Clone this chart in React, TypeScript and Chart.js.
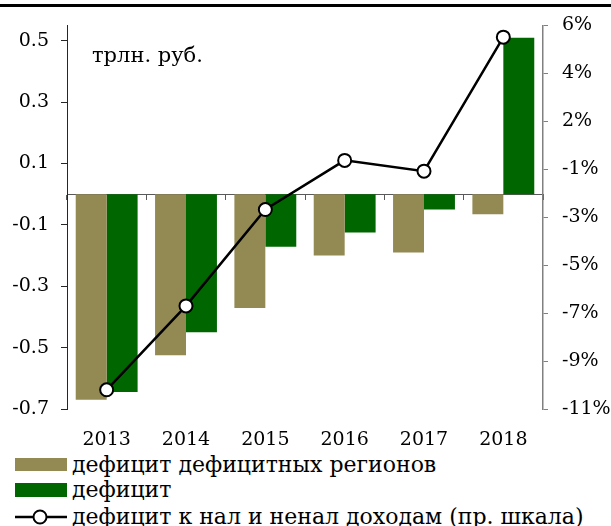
import React, { useEffect, useRef } from "react";
import { Chart, registerables } from "chart.js";

Chart.register(...registerables);

const categories = ["2013", "2014", "2015", "2016", "2017", "2018"];
const regionsDeficit = [-0.67, -0.525, -0.371, -0.2, -0.19, -0.065];
const totalDeficit = [-0.645, -0.45, -0.171, -0.125, -0.05, 0.51];
const deficitShare = [-9.7, -6.2, -2.18, -0.13, -0.58, 5.01];

const leftTickValues = [-0.7, -0.5, -0.3, -0.1, 0.1, 0.3, 0.5];
const leftTickLabels = ["-0.7", "-0.5", "-0.3", "-0.1", "0.1", "0.3", "0.5"];
const rightTickValues = [-10.5, -8.5, -6.5, -4.5, -2.5, -0.5, 1.5, 3.5, 5.5];
const rightTickLabels = ["-11%", "-9%", "-7%", "-5%", "-3%", "-1%", "2%", "4%", "6%"];

const seriesNames = [
  "дефицит дефицитных регионов",
  "дефицит",
  "дефицит к нал и ненал доходам (пр. шкала)",
];
const unitLabel = "трлн. руб.";

const TAN = "#938953";
const GREEN = "#006600";
const FONT = '"DejaVu Serif", serif';
const TICK_SIZE = 19;

const W = 611;
const CH = 452;

export default function App() {
  const ref = useRef<HTMLCanvasElement | null>(null);

  useEffect(() => {
    if (!ref.current) return;
    const unitPlugin = {
      id: "unitLabel",
      afterDraw(chart: any) {
        const { ctx, chartArea } = chart;
        ctx.save();
        ctx.font = `21px ${FONT}`;
        ctx.fillStyle = "#000";
        ctx.textBaseline = "alphabetic";
        ctx.fillText(unitLabel, chartArea.left + 25, chartArea.top + 37);
        ctx.restore();
      },
    };
    const chart = new Chart(ref.current, {
      type: "bar",
      data: {
        labels: categories,
        datasets: [
          {
            type: "line",
            label: seriesNames[2],
            data: deficitShare,
            yAxisID: "yR",
            xAxisID: "x",
            borderColor: "#000",
            borderWidth: 2.5,
            pointRadius: 6.5,
            pointBorderWidth: 2,
            pointBackgroundColor: "#fff",
            pointBorderColor: "#000",
            tension: 0,
            order: 0,
          } as any,
          {
            label: seriesNames[0],
            data: regionsDeficit,
            backgroundColor: TAN,
            yAxisID: "yL",
            xAxisID: "x",
            barPercentage: 1,
            categoryPercentage: 0.78,
            order: 1,
          },
          {
            label: seriesNames[1],
            data: totalDeficit,
            backgroundColor: GREEN,
            yAxisID: "yL",
            xAxisID: "x",
            barPercentage: 1,
            categoryPercentage: 0.78,
            order: 1,
          },
        ],
      },
      options: {
        responsive: false,
        animation: false,
        devicePixelRatio: 1,
        layout: { padding: { top: 25, left: 0, right: 0, bottom: 0 } },
        plugins: {
          legend: { display: false },
          tooltip: { enabled: false },
        },
        scales: {
          x: {
            type: "category",
            position: { yL: 0 } as any,
            offset: true,
            z: 1,
            grid: {
              display: true,
              offset: true,
              drawOnChartArea: false,
              drawTicks: true,
              tickLength: 5,
              color: "#595959",
            },
            border: { display: true, color: "#595959", width: 1 },
            ticks: { display: false },
          },
          x2: {
            type: "category",
            position: "bottom",
            offset: true,
            grid: { display: false, drawTicks: false },
            border: { display: false },
            ticks: {
              color: "#000",
              font: { family: FONT, size: TICK_SIZE },
              padding: 20,
              maxRotation: 0,
            },
            afterFit: (s: any) => {
              s.height = CH - 409;
            },
          } as any,
          yL: {
            type: "linear",
            position: "left",
            min: -0.7,
            max: 0.55,
            afterBuildTicks: (s: any) => {
              s.ticks = leftTickValues.map((v) => ({ value: v }));
            },
            afterFit: (s: any) => {
              s.width = 67;
            },
            grid: {
              drawOnChartArea: false,
              drawTicks: true,
              tickLength: 6,
              color: "#262626",
            },
            border: { display: true, color: "#262626", width: 1 },
            ticks: {
              color: "#000",
              font: { family: FONT, size: TICK_SIZE },
              padding: 12,
              callback: (v: any) => {
                const i = leftTickValues.findIndex((t) => Math.abs(t - v) < 1e-9);
                return i >= 0 ? leftTickLabels[i] : "";
              },
            },
          } as any,
          yR: {
            type: "linear",
            position: "right",
            min: -10.5,
            max: 5.5,
            afterBuildTicks: (s: any) => {
              s.ticks = rightTickValues.map((v) => ({ value: v }));
            },
            afterFit: (s: any) => {
              s.width = W - 543;
            },
            grid: {
              drawOnChartArea: false,
              drawTicks: true,
              tickLength: 5,
              color: "#808080",
            },
            border: { display: true, color: "#808080", width: 1.5 },
            ticks: {
              color: "#000",
              font: { family: FONT, size: TICK_SIZE },
              padding: 14,
              callback: (v: any) => {
                const i = rightTickValues.findIndex((t) => Math.abs(t - v) < 1e-9);
                return i >= 0 ? rightTickLabels[i] : "";
              },
            },
          } as any,
        },
      },
      plugins: [unitPlugin],
    });
    return () => chart.destroy();
  }, []);

  const textStyle = (top: number): React.CSSProperties => ({
    position: "absolute",
    left: 72,
    top,
    lineHeight: "26px",
    fontFamily: FONT,
    fontSize: 22,
    color: "#000",
    whiteSpace: "nowrap",
  });

  return (
    <div
      style={{
        position: "absolute",
        left: 0,
        top: 0,
        width: W,
        height: 526,
        background: "#fff",
        overflow: "hidden",
      }}
    >
      <canvas
        ref={ref}
        width={W}
        height={CH}
        style={{ position: "absolute", left: 0, top: 0, width: W, height: CH }}
      />
      <div
        style={{
          position: "absolute",
          left: 0,
          top: 4,
          width: W,
          height: 3,
          background: "#000",
        }}
      />
      <div style={{ position: "absolute", left: 15, top: 458, width: 52, height: 13, background: TAN }} />
      <div style={textStyle(452)}>{seriesNames[0]}</div>
      <div style={{ position: "absolute", left: 15, top: 483, width: 52, height: 14, background: GREEN }} />
      <div style={textStyle(477)}>{seriesNames[1]}</div>
      <svg width={54} height={20} style={{ position: "absolute", left: 14, top: 507 }}>
        <line x1={1} y1={10} x2={53} y2={10} stroke="#000" strokeWidth={2.5} />
        <circle cx={26} cy={10} r={6.5} fill="#fff" stroke="#000" strokeWidth={2} />
      </svg>
      <div style={textStyle(504)}>{seriesNames[2]}</div>
    </div>
  );
}
